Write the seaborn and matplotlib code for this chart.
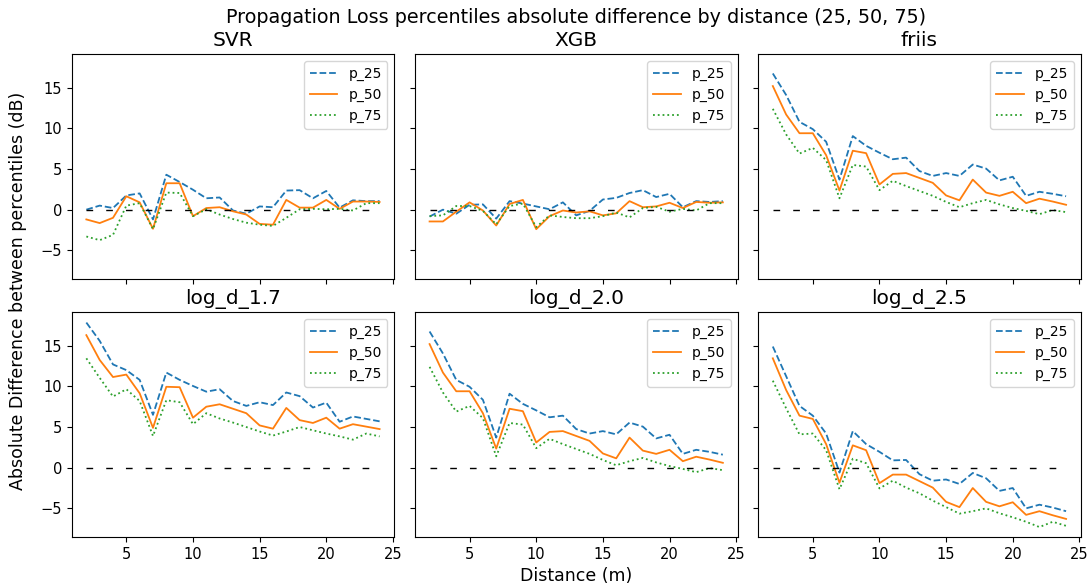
import numpy as np
import pandas as pd
import matplotlib
matplotlib.use("Agg")
import matplotlib.pyplot as plt
import seaborn as sns

# Distances (m) at which the percentile differences were evaluated
distance = list(range(2, 25))

models = ["SVR", "XGB", "friis", "log_d_1.7", "log_d_2.0", "log_d_2.5"]
percentiles = ["p_25", "p_50", "p_75"]

# Absolute difference between percentiles (dB), one list per model / percentile
svr_p25 = [0.0, 0.5, 0.2, 1.75, 2.0, -1.2, 4.3, 3.4, 2.45, 1.4, 1.5, -0.1, -0.5,
           0.4, 0.3, 2.35, 2.4, 1.4, 2.3, 0.25, 1.15, 1.05, 1.05]
svr_p50 = [-1.2, -1.65, -1.0, 1.65, 0.9, -2.35, 3.25, 3.25, -0.8, 0.2, 0.3, -0.2, -0.6,
           -1.75, -1.85, 1.2, 0.25, 0.25, 1.2, 0.1, 1.0, 1.0, 0.95]
svr_p75 = [-3.3, -3.75, -3.1, 0.5, 0.8, -2.4, 2.1, 2.05, -0.8, 0.05, -0.6, -1.15, -1.6,
           -1.85, -2.0, -1.0, 0.05, 0.1, 0.05, 0.1, -0.1, 0.8, 0.8]

xgb_p25 = [-0.85, 0.0, -0.5, 0.6, 0.65, -1.1, 1.05, 0.75, 0.4, 0.05, 0.9, -0.7, -0.15,
           1.25, 1.45, 2.05, 2.4, 1.55, 1.95, 0.3, 1.05, 0.95, 1.05]
xgb_p50 = [-1.45, -1.45, -0.25, 0.9, -0.1, -1.95, 0.7, 1.2, -2.4, -0.8, -0.1, -0.35, -0.2,
           -0.7, -0.45, 1.05, 0.3, 0.4, 0.85, 0.2, 0.95, 0.85, 0.9]
xgb_p75 = [-0.8, -0.7, 0.45, 0.45, -0.15, -1.8, 0.45, 0.75, -2.15, -0.7, -0.9, -1.05, -1.05,
           -0.8, -0.35, -0.95, 0.2, 0.35, -0.25, 0.1, -0.1, 0.8, 0.8]

friis_p25 = [16.75, 14.1, 10.8, 9.9, 8.35, 3.7, 9.05, 7.85, 7.0, 6.2, 6.4, 4.75, 4.15,
             4.5, 4.15, 5.55, 5.05, 3.6, 4.05, 1.7, 2.2, 1.95, 1.65]
friis_p50 = [15.2, 11.7, 9.4, 9.4, 6.7, 2.35, 7.25, 6.95, 3.1, 4.4, 4.5, 3.9, 3.3,
             1.75, 1.15, 3.7, 2.1, 1.7, 2.2, 0.8, 1.35, 1.0, 0.6]
friis_p75 = [12.4, 9.25, 6.9, 7.6, 6.1, 1.4, 5.5, 5.3, 2.4, 3.55, 2.9, 2.3, 1.7,
             0.95, 0.3, 0.8, 1.2, 0.65, 0.2, -0.15, -0.55, -0.05, -0.3]

logd17_p25 = [17.85, 15.6, 12.7, 12.0, 10.8, 6.5, 11.7, 10.8, 10.05, 9.35, 9.65, 8.2, 7.6,
              8.05, 7.7, 9.25, 8.8, 7.4, 8.0, 5.65, 6.3, 6.0, 5.7]
logd17_p50 = [16.3, 13.25, 11.15, 11.45, 9.15, 4.9, 9.95, 9.9, 6.15, 7.5, 7.8, 7.25, 6.7,
              5.2, 4.8, 7.35, 5.85, 5.5, 6.15, 4.8, 5.35, 5.05, 4.75]
logd17_p75 = [13.45, 11.05, 8.75, 9.65, 8.2, 3.9, 8.3, 8.05, 5.35, 6.7, 6.05, 5.55, 5.0,
              4.45, 3.95, 4.45, 5.0, 4.6, 4.2, 3.85, 3.45, 4.2, 3.85]

logd20_p25 = [16.75, 14.05, 10.8, 9.95, 8.35, 3.7, 9.1, 7.85, 7.05, 6.2, 6.4, 4.75, 4.2,
              4.5, 4.1, 5.55, 5.05, 3.6, 4.05, 1.7, 2.2, 1.95, 1.6]
logd20_p50 = [15.2, 11.7, 9.4, 9.4, 6.7, 2.35, 7.25, 6.95, 3.1, 4.4, 4.5, 3.9, 3.3,
              1.75, 1.15, 3.7, 2.1, 1.7, 2.2, 0.8, 1.35, 1.0, 0.6]
logd20_p75 = [12.4, 9.25, 6.9, 7.6, 6.1, 1.4, 5.5, 5.3, 2.4, 3.55, 2.9, 2.3, 1.7,
              0.95, 0.3, 0.8, 1.2, 0.65, 0.2, -0.15, -0.55, -0.05, -0.3]

logd25_p25 = [14.9, 11.25, 7.6, 6.4, 4.2, -0.6, 4.5, 2.9, 1.95, 0.9, 0.95, -0.8, -1.6,
              -1.45, -2.0, -0.65, -1.3, -2.85, -2.5, -5.0, -4.55, -4.9, -5.35]
logd25_p50 = [13.45, 9.55, 6.4, 6.0, 2.9, -1.85, 2.75, 2.15, -1.9, -0.85, -0.85, -1.65, -2.45,
              -4.2, -4.85, -2.5, -4.2, -4.75, -4.25, -5.8, -5.35, -5.85, -6.3]
logd25_p75 = [10.7, 7.3, 4.1, 4.2, 2.15, -2.65, 1.1, 0.55, -2.55, -1.6, -2.45, -3.15, -4.05,
              -4.85, -5.65, -5.35, -5.0, -5.6, -6.1, -6.65, -7.3, -6.65, -7.15]

series = {
    "SVR": [svr_p25, svr_p50, svr_p75],
    "XGB": [xgb_p25, xgb_p50, xgb_p75],
    "friis": [friis_p25, friis_p50, friis_p75],
    "log_d_1.7": [logd17_p25, logd17_p50, logd17_p75],
    "log_d_2.0": [logd20_p25, logd20_p50, logd20_p75],
    "log_d_2.5": [logd25_p25, logd25_p50, logd25_p75],
}

rows = []
for model in models:
    for pct, vals in zip(percentiles, series[model]):
        for d, v in zip(distance, vals):
            rows.append({"model": model, "distance": d, "percentile": pct, "value": v})
df = pd.DataFrame(rows)

palette = {"p_25": "#1f77b4", "p_50": "#ff7f0e", "p_75": "#2ca02c"}
dashes = {"p_25": (3.7, 1.6), "p_50": "", "p_75": (1, 1.65)}

left, right = 0.0657, 0.9906
fig, axes = plt.subplots(2, 3, figsize=(10.91, 5.87), dpi=100, sharex=True, sharey=True)
fig.subplots_adjust(left=left, right=right, top=0.9075, bottom=0.0847,
                    wspace=0.064, hspace=0.147)

for ax, model in zip(axes.flat, models):
    sub = df[df["model"] == model]
    sns.lineplot(data=sub, x="distance", y="value", hue="percentile", style="percentile",
                 palette=palette, dashes=dashes, hue_order=percentiles,
                 style_order=percentiles, linewidth=1.3, ax=ax)
    # Reference line at zero difference
    ax.hlines(0, distance[0], distance[-1], colors="black", linewidth=1.0,
              linestyles=(0, (4.8, 9.4)))
    ax.set_title(model, fontsize=14.5)
    ax.set_xlabel("")
    ax.set_ylabel("")
    ax.tick_params(labelsize=10.5)
    handles, labels = ax.get_legend_handles_labels()
    ax.legend(handles[:3], labels[:3], loc="upper right", fontsize=10)

axes[0, 0].set_xticks([5, 10, 15, 20, 25])
axes[0, 0].set_yticks([-5, 0, 5, 10, 15])

# Figure-level labels centred over the grid of axes
xmid = (left + right) / 2
fig.suptitle("Propagation Loss percentiles absolute difference by distance (25, 50, 75)",
             fontsize=13.8, x=xmid, y=0.987)
fig.supxlabel("Distance (m)", fontsize=12.5, x=xmid, y=0.003)
fig.supylabel("Absolute Difference between percentiles (dB)", fontsize=12.5, x=0.008,
              y=0.505)

fig.savefig("out.png", dpi=100)
